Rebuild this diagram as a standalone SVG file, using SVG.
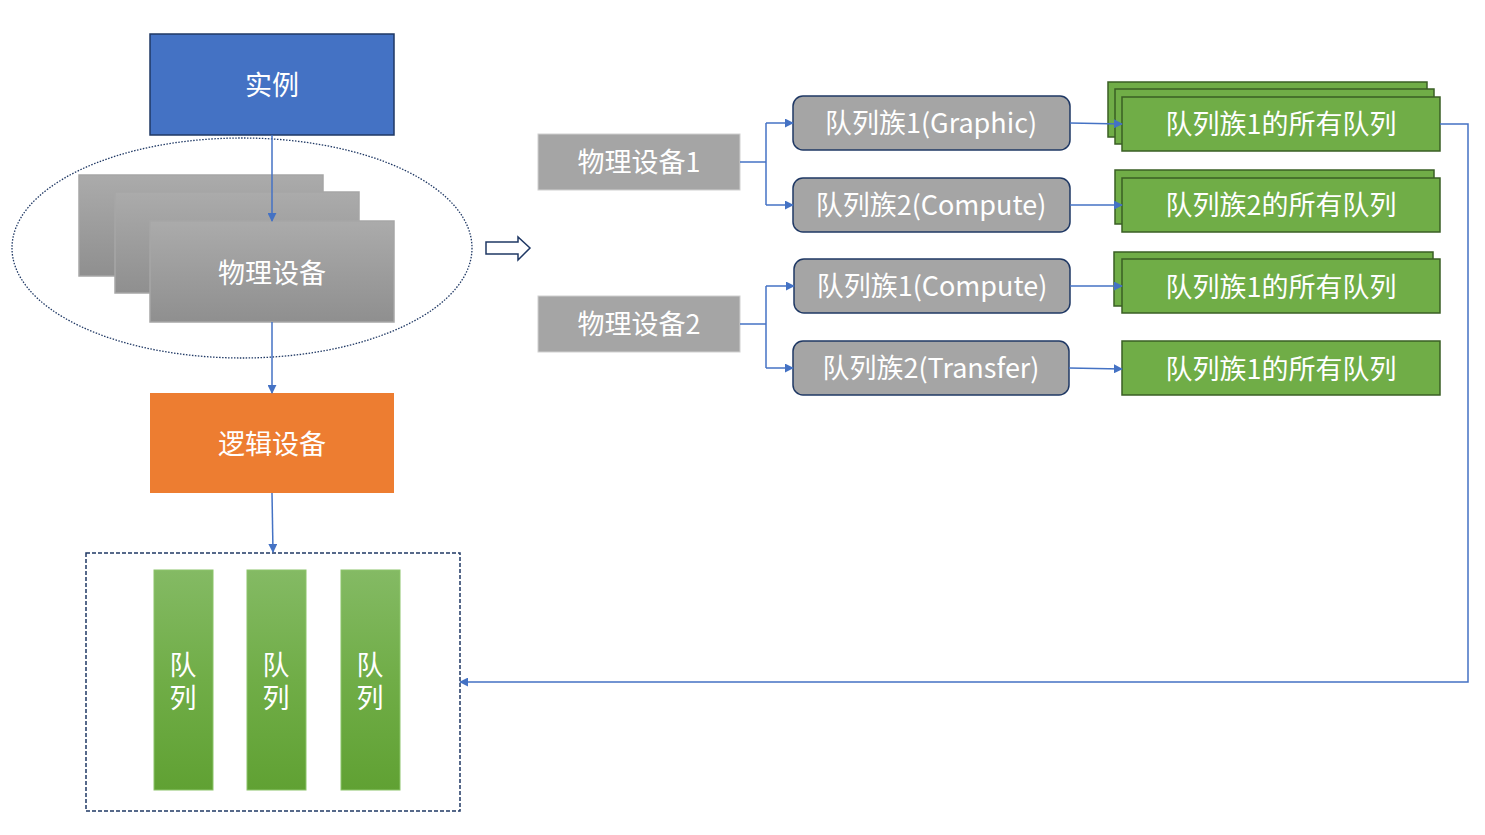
<svg xmlns="http://www.w3.org/2000/svg" width="1485" height="835" viewBox="0 0 1485 835">
<defs>
<linearGradient id="gGray" x1="0" y1="0" x2="0" y2="1"><stop offset="0" stop-color="#ababab"/><stop offset="1" stop-color="#8f8f8f"/></linearGradient>
<linearGradient id="gGreen" x1="0" y1="0" x2="0" y2="1"><stop offset="0" stop-color="#84ba64"/><stop offset="0.5" stop-color="#70ad47"/><stop offset="1" stop-color="#60a133"/></linearGradient>
<marker id="ah" viewBox="0 0 10 10" refX="9" refY="5" markerWidth="9" markerHeight="9" markerUnits="userSpaceOnUse" orient="auto"><path d="M0,0 L10,5 L0,10 z" fill="#4472c4"/></marker>
</defs>
<style>
text{font-family:"Noto Sans CJK SC","Noto Sans",sans-serif;fill:#ffffff;font-size:27px;text-anchor:middle;dominant-baseline:central}
.v{writing-mode:vertical-rl;letter-spacing:6px;font-size:27px}
.con{fill:none;stroke:#4472c4;stroke-width:1.5}
.gray{fill:url(#gGray);stroke:#a6a6a6;stroke-width:1.5}
.pd{fill:#a5a5a5;stroke:#d0d0d0;stroke-width:1}
.qf{fill:#a5a5a5;stroke:#1f3864;stroke-width:1.5}
.gq{fill:#70ad47;stroke:#3a5f24;stroke-width:1.5}
.bar{fill:url(#gGreen);stroke:#8cc46a;stroke-width:1}
</style>
<rect width="1485" height="835" fill="#ffffff"/>

<ellipse cx="242" cy="248" rx="230" ry="110" fill="none" stroke="#1f3864" stroke-width="1.3" stroke-dasharray="1.5 1.5"/>

<g id="instance">
<rect x="150" y="34" width="244" height="101" fill="#4472c4" stroke="#1f3864" stroke-width="1.5"/>
<text x="272" y="83">实例</text>
</g>

<g id="physical-device">
<rect class="gray" x="79" y="175" width="244" height="101"/>
<rect class="gray" x="115" y="192" width="244" height="101"/>
<rect class="gray" x="150" y="221" width="244" height="101"/>
<text x="272" y="271">物理设备</text>
</g>

<g id="logical-device">
<rect x="150" y="393" width="244" height="100" fill="#ed7d31"/>
<text x="272" y="442">逻辑设备</text>
</g>

<g id="queues">
<rect x="86" y="553" width="374" height="258" fill="none" stroke="#1f3864" stroke-width="1.5" stroke-dasharray="4 2"/>
<rect class="bar" x="154" y="570" width="59" height="220"/>
<rect class="bar" x="247" y="570" width="59" height="220"/>
<rect class="bar" x="341" y="570" width="59" height="220"/>
<text class="v" x="183" y="684">队列</text>
<text class="v" x="276" y="684">队列</text>
<text class="v" x="370" y="684">队列</text>
</g>

<g id="hollow-arrow">
<path d="M486,242 L518,242 L518,237 L530,248 L518,260 L518,254 L486,254 z" fill="#ffffff" stroke="#1f3864" stroke-width="1.5"/>
</g>

<g id="pd1">
<rect class="pd" x="538" y="134" width="202" height="56"/>
<text x="639" y="160">物理设备1</text>
</g>
<g id="pd2">
<rect class="pd" x="538" y="296" width="202" height="56"/>
<text x="639" y="322">物理设备2</text>
</g>

<g id="qf1"><rect class="qf" x="793" y="96" width="277" height="54" rx="10"/><text x="931" y="121">队列族1(Graphic)</text></g>
<g id="qf2"><rect class="qf" x="793" y="178" width="277" height="54" rx="10"/><text x="931" y="203">队列族2(Compute)</text></g>
<g id="qf3"><rect class="qf" x="794" y="259" width="276" height="54" rx="10"/><text x="932" y="284">队列族1(Compute)</text></g>
<g id="qf4"><rect class="qf" x="793" y="341" width="276" height="54" rx="10"/><text x="931" y="366">队列族2(Transfer)</text></g>

<g id="q1">
<rect class="gq" x="1108" y="82" width="319" height="55"/>
<rect class="gq" x="1115" y="89" width="319" height="55"/>
<rect class="gq" x="1122" y="97" width="318" height="54"/>
<text x="1281" y="122">队列族1的所有队列</text>
</g>
<g id="q2">
<rect class="gq" x="1115" y="170" width="319" height="54"/>
<rect class="gq" x="1122" y="178" width="318" height="54"/>
<text x="1281" y="203">队列族2的所有队列</text>
</g>
<g id="q3">
<rect class="gq" x="1114" y="252" width="319" height="54"/>
<rect class="gq" x="1122" y="259" width="318" height="54"/>
<text x="1281" y="285">队列族1的所有队列</text>
</g>
<g id="q4">
<rect class="gq" x="1122" y="341" width="318" height="54"/>
<text x="1281" y="367">队列族1的所有队列</text>
</g>

<g id="connectors">
<path class="con" d="M272,135 L272,221" marker-end="url(#ah)"/>
<path class="con" d="M272,322 L272,393" marker-end="url(#ah)"/>
<path class="con" d="M272,493 L273,552" marker-end="url(#ah)"/>
<path class="con" d="M740,162 L766,162"/>
<path class="con" d="M766,123 L766,205"/>
<path class="con" d="M766,123 L793,123" marker-end="url(#ah)"/>
<path class="con" d="M766,205 L793,205" marker-end="url(#ah)"/>
<path class="con" d="M740,324 L766,324"/>
<path class="con" d="M766,286 L766,368"/>
<path class="con" d="M766,286 L794,286" marker-end="url(#ah)"/>
<path class="con" d="M766,368 L793,368" marker-end="url(#ah)"/>
<path class="con" d="M1070,123 L1122,124" marker-end="url(#ah)"/>
<path class="con" d="M1070,205 L1122,205" marker-end="url(#ah)"/>
<path class="con" d="M1070,286 L1122,286" marker-end="url(#ah)"/>
<path class="con" d="M1069,368 L1122,369" marker-end="url(#ah)"/>
<path class="con" d="M1440,124 L1468,124 L1468,682 L460,682" marker-end="url(#ah)"/>
</g>
</svg>
